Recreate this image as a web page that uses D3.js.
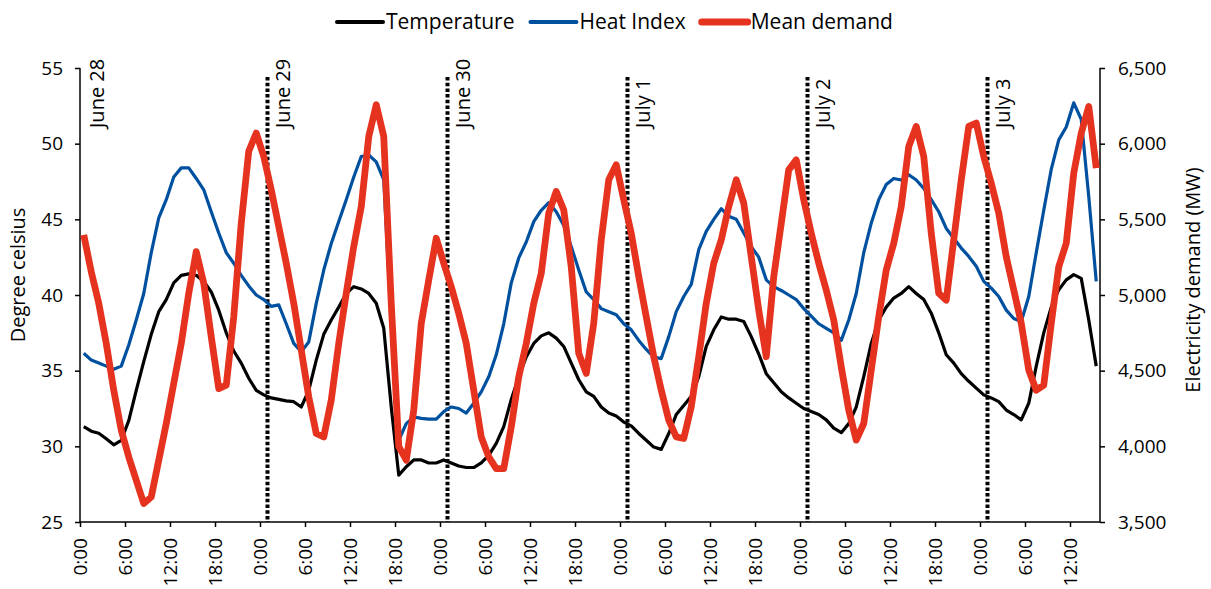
<!DOCTYPE html>
<html><head><meta charset="utf-8">
<script src="https://cdn.jsdelivr.net/npm/d3@7"></script>
<style>
body{margin:0;background:#fff}
svg{display:block}
text{font-family:"Open Sans",sans-serif;fill:#000}
</style>
</head><body>
<svg id="chart" width="1211" height="589"></svg>
<script>
// Hourly data, June 28 0:00 through July 3 15:00 (136 hours)
const temperature = [
31.3,31.0,30.86,30.5,30.1,30.4,31.7,33.7,35.6,37.4,38.9,39.7,40.8,41.3,41.4,41.3,40.9,40.2,39.0,37.5,36.3,35.5,34.5,
33.7,33.4,33.2,33.1,33.0,32.95,32.6,33.7,35.7,37.4,38.35,39.2,40.1,40.55,40.4,40.1,39.45,37.8,32.6,28.1,28.65,29.1,29.1,
28.9,28.9,29.1,28.9,28.7,28.6,28.6,28.9,29.4,30.2,31.3,33.1,34.6,35.9,36.8,37.3,37.5,37.15,36.6,35.5,34.4,33.6,
33.3,32.6,32.2,32.0,31.6,31.35,30.85,30.4,29.95,29.8,30.85,32.1,32.7,33.3,34.6,36.6,37.7,38.55,38.4,38.4,38.25,37.25,36.1,
34.8,34.2,33.6,33.2,32.85,32.5,32.3,32.1,31.75,31.2,30.9,31.5,32.6,34.6,36.8,38.35,39.2,39.8,40.1,40.55,40.1,39.7,38.8,
37.5,36.05,35.5,34.8,34.3,33.85,33.4,33.2,32.95,32.4,32.1,31.75,32.85,35.3,37.5,39.2,40.35,41.0,41.35,41.1,38.35,35.3
];
const heatIndex = [
36.15,35.7,35.5,35.3,35.1,35.3,36.7,38.35,40.1,42.8,45.1,46.3,47.8,48.4,48.4,47.7,46.95,45.5,44.1,42.8,42.1,41.3,40.6,
40.0,39.7,39.25,39.35,38.1,36.8,36.25,36.9,39.45,41.65,43.4,44.85,46.3,47.8,49.15,49.25,48.8,47.6,38.1,30.4,31.5,31.95,31.85,
31.8,31.8,32.3,32.6,32.5,32.2,32.85,33.6,34.6,36.05,38.1,40.8,42.45,43.5,44.85,45.6,46.1,45.5,44.6,43.2,41.65,40.2,
39.7,39.1,38.9,38.7,38.1,37.7,37.0,36.4,35.9,35.8,37.25,38.9,39.9,40.7,43.0,44.2,45.0,45.7,45.2,45.0,44.1,43.2,42.5,
41.0,40.55,40.3,40.0,39.7,39.1,38.6,38.1,37.8,37.5,37.0,38.35,40.1,42.8,44.75,46.3,47.3,47.7,47.6,47.95,47.6,47.05,46.3,
45.5,44.4,43.75,43.1,42.55,41.9,40.9,40.45,39.9,39.0,38.45,38.25,39.9,42.8,45.6,48.3,50.25,51.1,52.7,51.6,46.5,40.9
];
const demand = [
5397,5154,4945,4680,4371,4107,3930,3776,3622,3665,3908,4151,4416,4680,5011,5286,5077,4724,4382,4404,4856,5474,5950,
6070,5915,5695,5452,5210,4945,4636,4327,4085,4062,4305,4680,5011,5320,5584,6047,6257,6047,4945,4000,3908,4239,4813,
5099,5375,5210,5055,4879,4680,4371,4062,3930,3853,3853,4128,4459,4680,4945,5143,5541,5684,5562,5187,4614,4482,
4813,5364,5761,5860,5629,5408,5121,4856,4592,4371,4173,4062,4052,4261,4592,4945,5210,5364,5584,5761,5607,5253,4900,
4592,5121,5474,5827,5893,5629,5408,5210,5033,4835,4525,4239,4041,4151,4504,4856,5165,5342,5584,5981,6114,5915,5408,
5011,4966,5364,5761,6114,6136,5915,5739,5541,5253,5033,4813,4504,4371,4404,4813,5187,5342,5805,6070,6246,5838
];
const seriesNames = ["Temperature","Heat Index","Mean demand"];
const dayLabels = ["June 28","June 29","June 30","July 1","July 2","July 3"];
const dayLabelHours = [2.3,27.1,51.1,75.1,99.1,123.1];
const dayLineHours = [25,49,73,97,121];
const leftTicks = [25,30,35,40,45,50,55];
const rightTicks = [3500,4000,4500,5000,5500,6000,6500];
const hourTicks = d3.range(0,133,6);

const svg = d3.select("#chart");
const x = d3.scaleLinear().domain([0,136]).range([80,1100]);
const yL = d3.scaleLinear().domain([25,55]).range([522,68]);
const yR = d3.scaleLinear().domain([3500,6500]).range([522,68]);

// day separators
svg.append("g").selectAll("line").data(dayLineHours).join("line")
  .attr("x1",d=>x(d)).attr("x2",d=>x(d)).attr("y1",77).attr("y2",522)
  .attr("stroke","#000").attr("stroke-width",4).attr("stroke-dasharray","3.5,2.2");

svg.append("g").selectAll("text").data(dayLabels).join("text")
  .attr("transform",(d,i)=>`translate(${x(dayLabelHours[i])},128) rotate(-90)`)
  .attr("dy","0.35em").attr("font-size",20).text(d=>d);

// axes
const gL = svg.append("g").attr("transform","translate(80,0)")
  .call(d3.axisLeft(yL).tickValues(leftTicks).tickSize(5).tickPadding(12));
const gR = svg.append("g").attr("transform","translate(1100,0)")
  .call(d3.axisRight(yR).tickValues(rightTicks).tickFormat(d3.format(",")).tickSize(5).tickPadding(13));
const gB = svg.append("g").attr("transform","translate(0,522)")
  .call(d3.axisBottom(x).tickValues(hourTicks).tickFormat(h=>`${h%24}:00`).tickSize(5));
gB.selectAll(".tick text").attr("transform","rotate(-90)").attr("x",-16).attr("y",0)
  .attr("dy","0.35em").attr("text-anchor","end");
[gL,gR,gB].forEach(g=>{
  g.selectAll(".domain").attr("stroke","#000").attr("stroke-width",1.5);
  g.selectAll(".tick line").attr("stroke","#000").attr("stroke-width",1.5);
  g.selectAll(".tick text").attr("font-size",19).attr("font-family","Open Sans").attr("fill","#000");
});
gL.select(".domain").attr("d","M0,522V68");
gR.select(".domain").attr("d","M0,522V68");
gB.select(".domain").attr("d","M80,0H1100");

// axis titles
svg.append("text").attr("transform","translate(18,275) rotate(-90)")
  .attr("text-anchor","middle").attr("dy","0.35em").attr("font-size",20).text("Degree celsius");
svg.append("text").attr("transform","translate(1193,280) rotate(-90)")
  .attr("text-anchor","middle").attr("dy","0.35em").attr("font-size",20).text("Electricity demand (MW)");

// lines
const lineL = d3.line().x((d,i)=>x(i+0.5)).y(d=>yL(d));
const lineR = d3.line().x((d,i)=>x(i+0.5)).y(d=>yR(d));
svg.append("path").datum(temperature).attr("d",lineL).attr("fill","none")
  .attr("stroke","#000").attr("stroke-width",3.2).attr("stroke-linejoin","round");
svg.append("path").datum(heatIndex).attr("d",lineL).attr("fill","none")
  .attr("stroke","#0050A0").attr("stroke-width",3.2).attr("stroke-linejoin","round");
svg.append("path").datum(demand).attr("d",lineR).attr("fill","none")
  .attr("stroke","#E5331F").attr("stroke-width",6.8).attr("stroke-linejoin","round");

// legend
const legColors = ["#000","#0050A0","#E5331F"];
const legWidths = [4,4,7];
const leg = svg.append("g");
let lx = 337;
seriesNames.forEach((n,i)=>{
  leg.append("line").attr("x1",lx).attr("x2",lx+46).attr("y1",22).attr("y2",22)
    .attr("stroke",legColors[i]).attr("stroke-width",legWidths[i]).attr("stroke-linecap","round");
  const t = leg.append("text").attr("x",lx+49).attr("y",29).attr("font-size",21).text(n);
  lx += 49 + t.node().getComputedTextLength() + 16;
});
</script>
</body></html>
